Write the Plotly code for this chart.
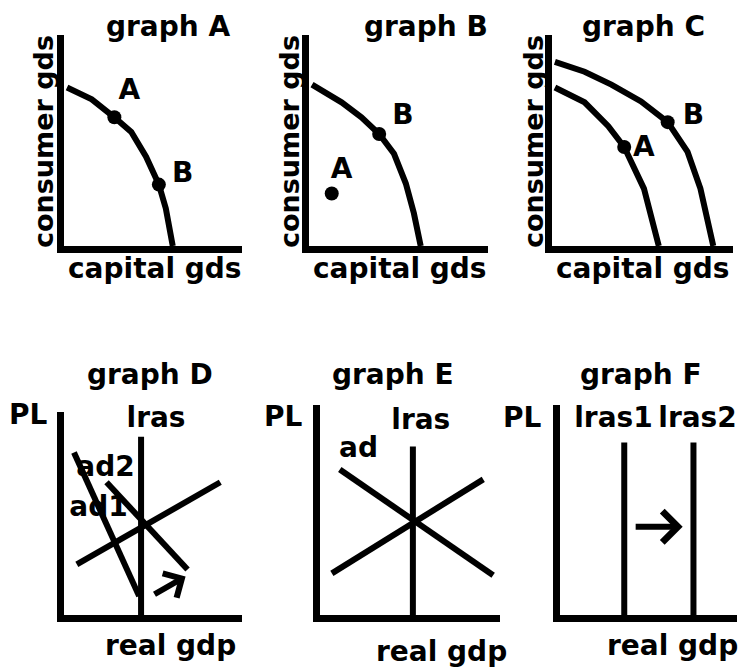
import plotly.graph_objects as go

# the page keeps an 8px body margin, so the figure is drawn 8px in from the corner
OFF = 8
W, H = 752 - OFF, 672 - OFF

# ---- values, every little graph runs 0-10 on both axes ----

# graph A: one ppc, A and B both on it
a_ppc_x = [0.17, 1.56, 2.83, 3.78, 4.61, 5.33, 5.72, 6.11]
a_ppc_y = [7.51, 6.95, 6.10, 5.40, 4.23, 2.91, 1.78, 0.0]
a_dot_x = [2.83, 5.33]
a_dot_y = [6.10, 2.91]
a_lab_x = [3.67, 6.67]
a_lab_y = [7.28, 3.38]
a_labels = ['A', 'B']

# graph B: A inside the curve, B on it
b_ppc_x = [0.17, 1.82, 2.93, 3.92, 4.75, 5.41, 5.86, 6.24]
b_ppc_y = [7.65, 6.81, 6.10, 5.31, 4.37, 2.96, 1.55, 0.0]
b_dot_x = [1.27, 3.92]
b_dot_y = [2.49, 5.31]
b_lab_x = [1.82, 5.25]
b_lab_y = [3.57, 6.10]
b_labels = ['A', 'B']

# graph C: curve shifts out, A -> B
c_ppc1_x = [0.16, 1.80, 3.11, 3.99, 5.08, 5.90]
c_ppc1_y = [7.51, 6.81, 5.68, 4.69, 2.72, 0.0]
c_ppc2_x = [0.16, 1.80, 3.28, 4.92, 6.39, 7.49, 8.20, 8.91]
c_ppc2_y = [8.73, 8.26, 7.65, 6.85, 5.87, 4.46, 2.72, 0.0]
c_dot_x = [3.99, 6.39]
c_dot_y = [4.69, 5.87]
c_lab_x = [5.08, 7.81]
c_lab_y = [4.60, 6.10]
c_labels = ['A', 'B']

# graph D: lras, sras, ad1 -> ad2
d_lras_x = [4.33, 4.33]
d_lras_y = [0.0, 8.78]
d_sras_x = [0.72, 8.78]
d_sras_y = [2.49, 6.54]
d_ad1_x = [0.56, 4.22]
d_ad1_y = [8.00, 0.93]
d_ad2_x = [2.39, 6.94]
d_ad2_y = [6.54, 2.24]
d_arrow_x = [5.00, 6.83]   # tail, head
d_arrow_y = [0.98, 1.90]
d_lab_x = [2.33, 1.94, 5.17]
d_lab_y = [7.17, 5.22, 9.60]
d_labels = ['ad2', 'ad1', 'lras']

# graph E: lras, sras, ad all crossing
e_lras_x = [5.16, 5.16]
e_lras_y = [0.0, 8.02]
e_sras_x = [0.66, 9.07]
e_sras_y = [1.98, 6.46]
e_ad_x = [1.10, 9.62]
e_ad_y = [6.93, 1.89]
e_lab_x = [2.14, 5.60]
e_lab_y = [7.88, 9.20]
e_labels = ['ad', 'lras']

# graph F: lras1 -> lras2
f_lras1_x = [3.63, 3.63]
f_lras2_x = [7.54, 7.54]
f_lras_y = [0.0, 8.21]
f_arrow_x = [4.19, 6.93]
f_arrow_y = [4.20, 4.20]
f_lab_x = [3.02, 7.77]
f_lab_y = [9.30, 9.30]
f_labels = ['lras1', 'lras2']

titles = ['graph A', 'graph B', 'graph C', 'graph D', 'graph E', 'graph F']

# pixel boxes of each graph in the reference (left, right, top, bottom)
boxes = [(64, 242, 35, 246), (309, 488, 35, 246), (552, 733, 35, 246),
         (64, 242, 412, 615), (320, 500, 405, 615), (560, 737, 405, 615)]

FONT = dict(family='DejaVu Sans', size=28, color='black', weight='bold')
VFONT = dict(FONT, size=27)
LW = 6


def px_x(p):
    return (p - OFF) / W


def px_y(p):
    return 1 - (p - OFF) / H


fig = go.Figure()


def line(x, y, n):
    fig.add_trace(go.Scatter(x=x, y=y, mode='lines', line=dict(color='black', width=LW),
                             xaxis='x' + n, yaxis='y' + n, showlegend=False, hoverinfo='skip'))


def dots(x, y, n):
    fig.add_trace(go.Scatter(x=x, y=y, mode='markers', marker=dict(color='black', size=14),
                             xaxis='x' + n, yaxis='y' + n, showlegend=False, hoverinfo='skip'))


def labels(x, y, t, n):
    fig.add_trace(go.Scatter(x=x, y=y, text=t, mode='text', textfont=FONT, cliponaxis=False,
                             xaxis='x' + n, yaxis='y' + n, showlegend=False, hoverinfo='skip'))


def arrow(x, y, n, size):
    fig.add_annotation(x=x[1], y=y[1], ax=x[0], ay=y[0], xref='x' + n, yref='y' + n,
                       axref='x' + n, ayref='y' + n, text='', showarrow=True,
                       arrowhead=4, arrowwidth=6, arrowsize=size, arrowcolor='black')


# graph A
line(a_ppc_x, a_ppc_y, '')
dots(a_dot_x, a_dot_y, '')
labels(a_lab_x, a_lab_y, a_labels, '')
# graph B
line(b_ppc_x, b_ppc_y, '2')
dots(b_dot_x, b_dot_y, '2')
labels(b_lab_x, b_lab_y, b_labels, '2')
# graph C
line(c_ppc1_x, c_ppc1_y, '3')
line(c_ppc2_x, c_ppc2_y, '3')
dots(c_dot_x, c_dot_y, '3')
labels(c_lab_x, c_lab_y, c_labels, '3')
# graph D
line(d_lras_x, d_lras_y, '4')
line(d_sras_x, d_sras_y, '4')
line(d_ad1_x, d_ad1_y, '4')
line(d_ad2_x, d_ad2_y, '4')
labels(d_lab_x, d_lab_y, d_labels, '4')
arrow(d_arrow_x, d_arrow_y, '4', 0.9)
# graph E
line(e_lras_x, e_lras_y, '5')
line(e_sras_x, e_sras_y, '5')
line(e_ad_x, e_ad_y, '5')
labels(e_lab_x, e_lab_y, e_labels, '5')
# graph F
line(f_lras1_x, f_lras_y, '6')
line(f_lras2_x, f_lras_y, '6')
labels(f_lab_x, f_lab_y, f_labels, '6')
arrow(f_arrow_x, f_arrow_y, '6', 1)

# axes: only the two black lines, no ticks or grid
axis = dict(range=[0, 10], showline=True, linecolor='black', linewidth=7,
            showgrid=False, zeroline=False, showticklabels=False, ticks='', fixedrange=True)
layout = {}
for i, (l, r, t, b) in enumerate(boxes):
    n = '' if i == 0 else str(i + 1)
    layout['xaxis' + n] = dict(axis, domain=[px_x(l), px_x(r)], anchor='y' + n)
    layout['yaxis' + n] = dict(axis, domain=[px_y(b), px_y(t)], anchor='x' + n)
fig.update_layout(**layout)


def note(x, y, t, font=FONT, angle=0):
    fig.add_annotation(x=px_x(x), y=px_y(y), xref='paper', yref='paper', text=t,
                       textangle=angle, showarrow=False, font=font,
                       xanchor='center', yanchor='middle')


# titles and axis names
title_pos = [(168, 26), (426, 26), (643, 26), (150, 374), (393, 374), (641, 374)]
for (x, y), t in zip(title_pos, titles):
    note(x, y, t)
for x in [43, 289, 533]:
    note(x, 142, 'consumer gds', VFONT, -90)
for x in [155, 400, 643]:
    note(x, 268, 'capital gds')
for x, y in [(170, 645), (441, 651), (672, 645)]:
    note(x, y, 'real gdp')
for x, y in [(28, 414), (283, 416), (522, 417)]:
    note(x, y, 'PL')

fig.update_layout(width=W, height=H, margin=dict(l=0, r=0, t=0, b=0),
                  paper_bgcolor='white', plot_bgcolor='white')

fig.write_html('out.html')
